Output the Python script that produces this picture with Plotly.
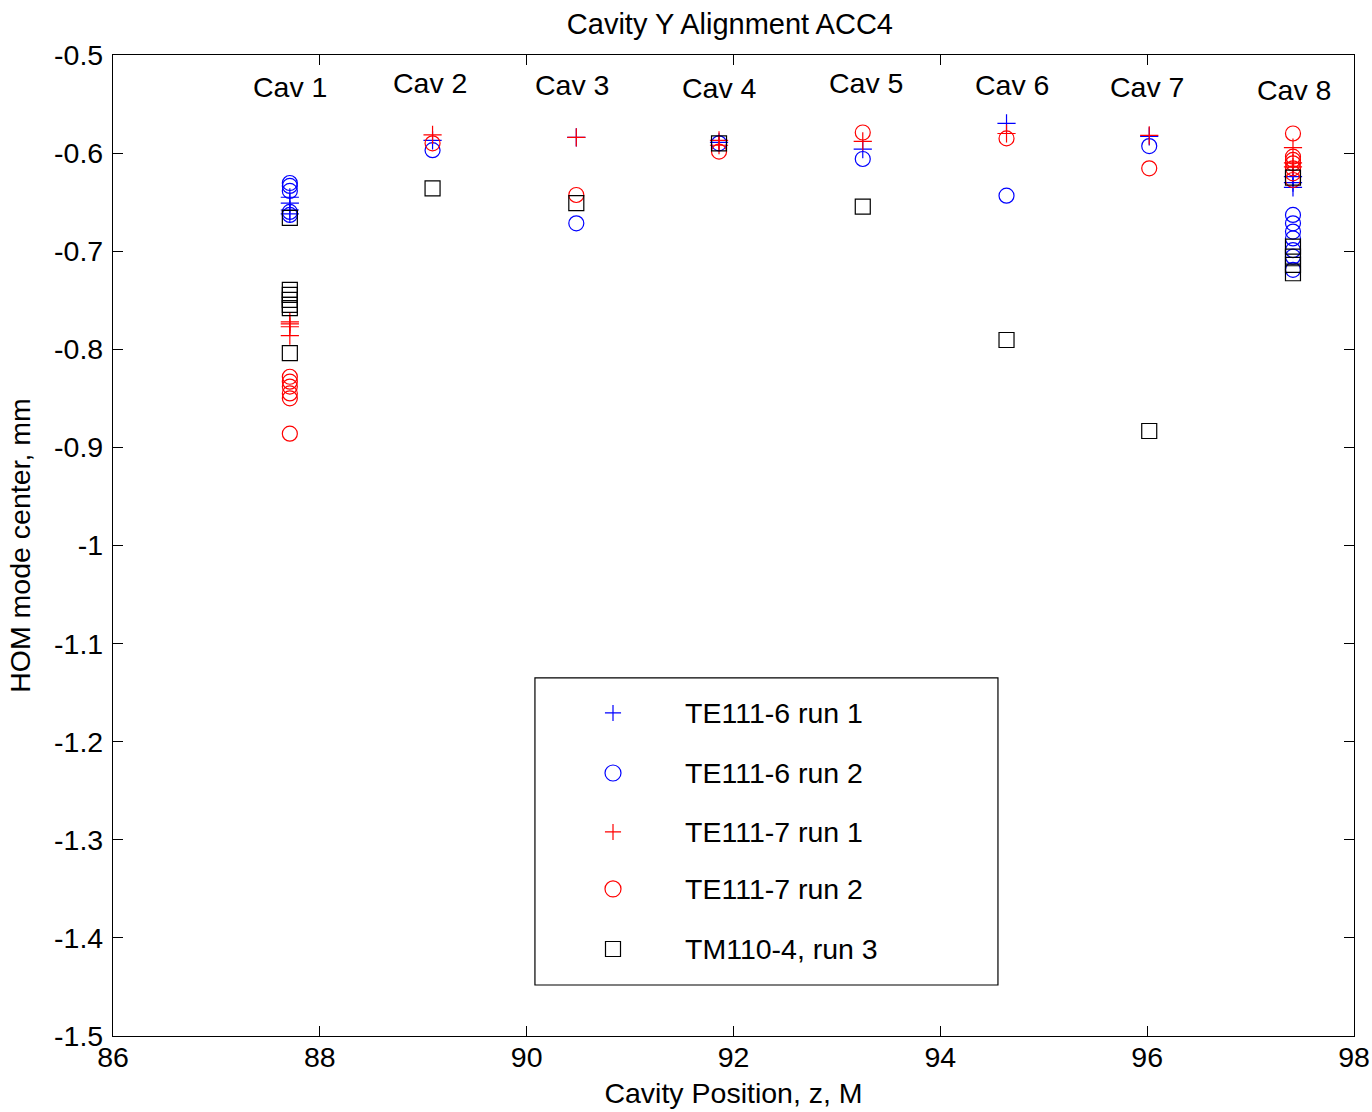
import plotly.graph_objects as go

# Cavity positions along the cryomodule (z, metres)
cav_z = [87.71, 89.09, 90.48, 91.86, 93.25, 94.64, 96.02, 97.41]
cav_names = ["Cav 1", "Cav 2", "Cav 3", "Cav 4", "Cav 5", "Cav 6", "Cav 7", "Cav 8"]
label_x = [87.711, 89.065, 90.438, 91.869, 93.281, 94.693, 95.998, 97.419]
label_y = [-0.5326, -0.5285, -0.5306, -0.5336, -0.5285, -0.5306, -0.5326, -0.5357]

# Measured HOM mode centres per cavity (mm)
te6_run1 = [
    [-0.645, -0.651, -0.658, -0.662],
    [-0.587],
    [-0.584],
    [-0.589],
    [-0.596],
    [-0.5696],
    [-0.583],
    [-0.624, -0.630, -0.635],
]
te6_run2 = [
    [-0.6305, -0.6335, -0.6386, -0.660, -0.663],
    [-0.597],
    [-0.6716],
    [-0.590],
    [-0.606],
    [-0.6434],
    [-0.5928],
    [-0.663, -0.6716, -0.680, -0.687, -0.699, -0.7056, -0.719],
]
te7_run1 = [
    [-0.772, -0.774, -0.777, -0.786],
    [-0.5815],
    [-0.584],
    [-0.587, -0.592],
    [-0.588],
    [-0.580],
    [-0.582],
    [-0.5945, -0.610, -0.614],
]
te7_run2 = [
    [-0.828, -0.833, -0.838, -0.845, -0.850, -0.886],
    [-0.590],
    [-0.6427],
    [-0.5985],
    [-0.579],
    [-0.585],
    [-0.6155],
    [-0.580, -0.6036, -0.607, -0.6104, -0.6155, -0.6206, -0.6274],
]
tm110_run3 = [
    [-0.666, -0.7395, -0.7446, -0.7497, -0.7548, -0.758, -0.804],
    [-0.636],
    [-0.651],
    [-0.590],
    [-0.6546],
    [-0.7905],
    [-0.8833],
    [-0.625, -0.6954, -0.7056, -0.714, -0.7225],
]

series_names = ["TE111-6 run 1", "TE111-6 run 2", "TE111-7 run 1", "TE111-7 run 2", "TM110-4, run 3"]
series_data = [te6_run1, te6_run2, te7_run1, te7_run2, tm110_run3]
series_symbols = ["cross-thin-open", "circle-open", "cross-thin-open", "circle-open", "square-open"]
series_colors = ["#0000ff", "#0000ff", "#ff0000", "#ff0000", "#000000"]
series_sizes = [13, 15, 13, 15, 15]
legend_sizes = [11.5, 16, 11.5, 16, 15]

FONT = "Arial, Liberation Sans, sans-serif"
FS = 28.5

fig = go.Figure()


def flatten(groups):
    xs, ys = [], []
    for z, vals in zip(cav_z, groups):
        for v in vals:
            xs.append(z)
            ys.append(v)
    return xs, ys


for name, data, sym, col, sz in zip(series_names, series_data, series_symbols,
                                     series_colors, series_sizes):
    xs, ys = flatten(data)
    fig.add_trace(go.Scatter(
        x=xs, y=ys, mode="markers", name=name, showlegend=False,
        marker=dict(symbol=sym, size=sz, color=col, line=dict(color=col, width=1.2)),
    ))

# Hand-built legend box on an overlay axis spanning the plot area
leg_x0, leg_x1 = 0.3400, 0.7131   # fractions of the plot area
leg_y0, leg_y1 = 0.0520, 0.3650
leg_marker_x = 0.4029
leg_text_x = 0.4593
leg_rows = [0.3293, 0.2681, 0.2080, 0.1499, 0.0887]

fig.add_shape(type="rect", xref="x domain", yref="y domain",
              x0=leg_x0, x1=leg_x1, y0=leg_y0, y1=leg_y1,
              line=dict(color="black", width=1.2), fillcolor="white", layer="below")

for name, sym, col, sz, ry in zip(series_names, series_symbols, series_colors,
                                  legend_sizes, leg_rows):
    fig.add_trace(go.Scatter(
        x=[leg_marker_x], y=[ry], xaxis="x2", yaxis="y2", mode="markers",
        showlegend=False, hoverinfo="skip",
        marker=dict(symbol=sym, size=sz, color=col, line=dict(color=col, width=1.2)),
    ))
    fig.add_annotation(x=leg_text_x, y=ry, xref="x2", yref="y2", text=name,
                       showarrow=False, xanchor="left", yanchor="middle",
                       font=dict(size=FS, color="black", family=FONT))

# Cavity labels
for lx, ly, txt in zip(label_x, label_y, cav_names):
    fig.add_annotation(x=lx, y=ly, text=txt, showarrow=False,
                       xanchor="center", yanchor="middle",
                       font=dict(size=FS, color="black", family=FONT))

axis_common = dict(
    showgrid=False, zeroline=False, showline=True, linecolor="black", linewidth=1.2,
    mirror="ticks", ticks="inside", ticklen=10, tickcolor="black", tickwidth=1,
    tickfont=dict(size=FS, color="black", family=FONT), automargin=False,
)

fig.update_layout(
    width=1372, height=1112, autosize=False,
    margin=dict(l=113, r=18, t=55, b=76, autoexpand=False),
    paper_bgcolor="white", plot_bgcolor="white",
    showlegend=False,
    title=dict(text="Cavity Y Alignment ACC4", x=0.532, xanchor="center",
               y=0.979, yanchor="middle", automargin=False,
               font=dict(size=29, color="black", family=FONT)),
    xaxis=dict(range=[86, 98], dtick=2, tick0=86, ticklabelstandoff=-4,
               title=dict(text="Cavity Position, z, M", standoff=10,
                          font=dict(size=FS, color="black", family=FONT)),
               **axis_common),
    yaxis=dict(range=[-1.5, -0.5], ticklabelstandoff=3,
               tickvals=[-1.5, -1.4, -1.3, -1.2, -1.1, -1.0, -0.9, -0.8, -0.7, -0.6, -0.5],
               ticktext=["-1.5", "-1.4", "-1.3", "-1.2", "-1.1", "-1", "-0.9", "-0.8",
                         "-0.7", "-0.6", "-0.5"],
               title=dict(text="HOM mode center, mm", standoff=15,
                          font=dict(size=FS, color="black", family=FONT)),
               **axis_common),
    xaxis2=dict(overlaying="x", range=[0, 1], visible=False, fixedrange=True),
    yaxis2=dict(overlaying="y", range=[0, 1], visible=False, fixedrange=True),
)

fig.write_html("out.html", config={"responsive": False})
